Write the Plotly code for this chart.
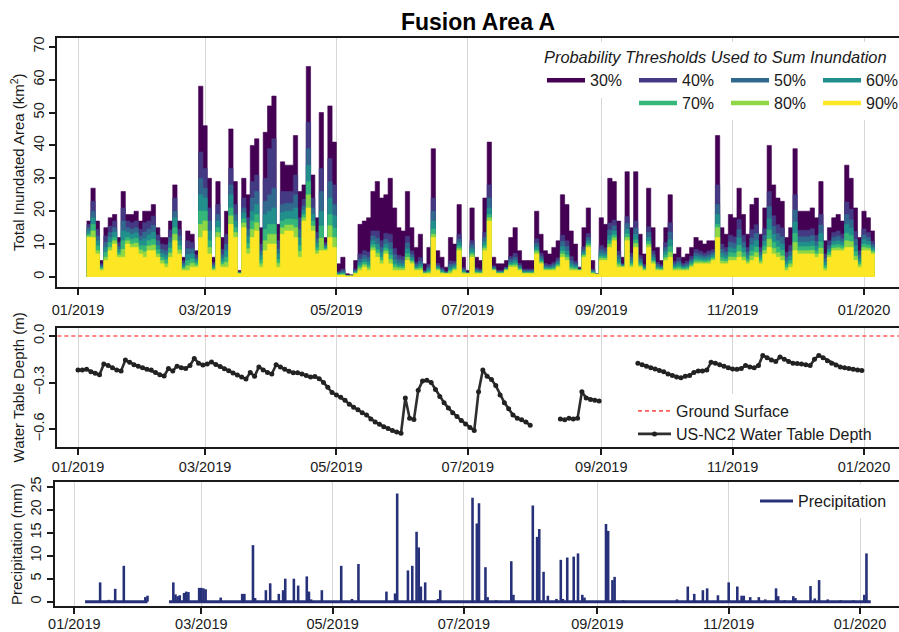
import pandas as pd
import plotly.graph_objects as go

# ------------------------------------------------------------------ data
month_ticks = ["2019-01-01", "2019-03-01", "2019-05-01", "2019-07-01",
               "2019-09-01", "2019-11-01", "2020-01-01"]
tick_labels = ["01/2019", "03/2019", "05/2019", "07/2019", "09/2019", "11/2019", "01/2020"]

# Total inundated area (km2), 2-day steps starting 2019-01-05
inund_start = "2019-01-05"
inund_step_days = 2
threshold_names = ["30%", "40%", "50%", "60%", "70%", "80%", "90%"]
threshold_colors = ["#440154", "#443A83", "#31688E", "#21908C", "#35B779", "#8FD744", "#FDE725"]

inund_30 = [17, 27, 17, 5, 15, 18, 19, 12, 26, 19,
            19, 20, 17, 20, 20, 22, 15, 12, 12, 17,
            28, 17, 6, 14, 13, 8, 58, 46, 30, 6,
            29, 12, 20, 45, 29, 2, 30, 25, 40, 42,
            15, 44, 52, 55, 16, 35, 34, 34, 43, 26,
            28, 64, 31, 18, 50, 12, 52, 41, 4, 6,
            1, 0.7, 5, 16, 17, 18, 26, 29, 24, 25,
            30, 21, 15, 14, 26, 15, 9, 13, 4, 9,
            39, 8, 6, 3, 12, 10, 22, 6, 2, 21,
            6, 5, 24, 41, 6, 4, 4, 5, 12, 15,
            8, 5, 5, 5, 20, 13, 8, 7, 9, 11,
            25, 22, 14, 10, 3, 15, 21, 5, 1, 18,
            16, 30, 29, 17, 6, 32, 15, 32, 13, 7,
            27, 15, 9, 5, 15, 25, 7, 9, 6, 7,
            9, 12, 11, 10, 11, 11, 43, 15, 13, 19,
            18, 27, 19, 13, 22, 24, 13, 21, 40, 28,
            24, 23, 12, 15, 39, 20, 20, 20, 21, 18,
            29, 11, 15, 18, 19, 17, 34, 30, 21, 12,
            20, 18, 14]

inund_40 = [16, 23, 14.5, 4, 12.5, 15.5, 17, 10.5, 21, 17,
            16.5, 17, 14.5, 16.5, 17, 18.5, 12.8, 10, 9.8, 14.3,
            24, 14.5, 5, 11, 10.5, 6.8, 38, 33, 21, 4.4,
            22, 8.4, 13, 33, 22, 1.6, 24, 18, 29, 31,
            10, 30, 39, 42, 11, 26, 26, 26, 31, 18,
            23.6, 47, 24, 13.6, 33, 10.4, 36, 28, 1.7, 2.4,
            0.55, 0.45, 2.4, 7, 8, 7.6, 14, 14, 11, 13.3,
            13, 8.7, 6.6, 6.2, 12.4, 7.9, 4.5, 5.9, 2, 3.8,
            24, 4.1, 2.8, 1.7, 4.9, 4.8, 13, 2.8, 1.4, 11,
            2.8, 2.4, 13.6, 28, 3.4, 2, 2, 3, 6.2, 7.2,
            4.1, 2.4, 2.4, 2.4, 11.6, 7.2, 4.1, 3.8, 4.5, 5.8,
            12.7, 11, 6.2, 4.8, 2.4, 9.2, 13.2, 2.4, 0.9, 9.6,
            8.9, 16.4, 17.3, 7.9, 4, 18.4, 7.2, 17, 6.5, 3.8,
            15.3, 7.9, 4.5, 3.7, 10.5, 16.5, 4.8, 5.9, 4.2, 4.8,
            6.3, 8.4, 7.9, 7.3, 7.9, 8.3, 28, 10, 9, 12.7,
            12.2, 17.5, 12.7, 9, 14.4, 15.9, 9, 14.7, 26, 18.6,
            15.9, 14.9, 7.5, 9.6, 25, 14.2, 14.2, 14.2, 14.7, 12.6,
            19, 7, 11, 13.5, 14, 13, 22.8, 20.6, 13.8, 8,
            14.6, 13.5, 10.9]

inund_50 = [15, 20, 12.5, 3.5, 10.5, 13.5, 15, 9.3, 17, 15,
            14.5, 15, 12.5, 13.7, 14.6, 15.7, 11, 8.4, 8, 12,
            20, 12.5, 4.2, 8.6, 8.5, 5.8, 30, 27, 17, 3.7,
            19, 6.8, 10, 28, 19, 1.4, 21, 14.5, 24, 26,
            8, 23, 25, 27, 8.5, 22, 22.4, 22.4, 25, 14.4,
            21.6, 39, 21, 11.6, 26, 9.7, 29, 22, 1.4, 1.9,
            0.5, 0.4, 2, 5.5, 6.5, 6, 12.5, 11.8, 9, 11.5,
            10.5, 6.8, 5.3, 5, 10.3, 6.8, 3.8, 4.8, 1.8, 3,
            20, 3.5, 2.3, 1.5, 3.8, 4, 11.5, 2.3, 1.3, 9.8,
            2.3, 2, 12, 24, 3, 1.8, 1.8, 2.8, 5.3, 6,
            3.5, 2, 2, 2, 10.3, 6.3, 3.5, 3.3, 3.8, 5,
            10.8, 9.3, 5, 4, 2.3, 8.3, 12, 2, 0.9, 8.3,
            7.8, 14.3, 15.5, 6.5, 3.8, 16.3, 6, 14.8, 5.5, 3.3,
            13.5, 6.8, 3.8, 3.2, 9, 13.6, 4, 4.8, 3.6, 4,
            5.4, 7.2, 6.8, 6.4, 6.8, 7.4, 22, 8.4, 7.6, 10.6,
            10.2, 14.4, 10.6, 7.6, 11.8, 13.2, 7.6, 12.6, 21.4, 15.4,
            13.2, 12.2, 6, 7.8, 20.4, 12.2, 12.2, 12.2, 12.6, 10.8,
            15.8, 5.6, 9.6, 12, 12.4, 11.6, 19, 17.4, 11.4, 6.6,
            12.8, 12, 9.8]

inund_60 = [14, 18, 11, 3, 9, 12, 13.6, 8.4, 14, 13.6,
            13, 13.4, 11, 11.6, 12.8, 13.6, 9.6, 7.2, 6.6, 10.4,
            18, 11, 3.6, 6.8, 7, 5, 25, 24, 14, 3.2,
            17, 5.7, 8, 25, 17, 1.3, 19.5, 12.4, 20, 22,
            6.6, 19, 20, 21, 7, 19.6, 20, 20, 21, 12,
            20.3, 34, 19, 10.3, 20, 9.2, 24, 18.6, 1.1, 1.4,
            0.4, 0.37, 1.7, 4.4, 5.4, 4.7, 11, 10, 7.4, 10,
            8.4, 5.2, 4.2, 4, 8.6, 5.9, 3.2, 3.9, 1.5, 2.4,
            17, 3, 1.9, 1.3, 2.9, 3.4, 10.4, 1.9, 1.2, 8.6,
            1.9, 1.7, 10.7, 21, 2.7, 1.5, 1.5, 2.5, 4.5, 5,
            3, 1.7, 1.7, 1.7, 9.2, 5.5, 3, 2.9, 3.2, 4.4,
            9.2, 7.9, 4, 3.4, 2.2, 7.5, 11, 1.7, 0.85, 7.2,
            6.9, 12.6, 14, 5.4, 3.5, 14.6, 5, 12.9, 4.7, 2.9,
            12, 5.9, 3.2, 2.8, 7.8, 11.3, 3.4, 4, 3.1, 3.4,
            4.7, 6.2, 6, 5.7, 6, 6.7, 19, 7.1, 6.5, 8.9,
            8.6, 11.9, 8.9, 6.5, 9.8, 11, 6.5, 10.9, 17.7, 12.9,
            11, 10, 4.8, 6.4, 16.7, 10.6, 10.6, 10.6, 10.9, 9.4,
            13.2, 4.5, 8.5, 10.8, 11, 10.5, 16, 14.9, 9.5, 5.5,
            11.4, 10.8, 9]

inund_70 = [13, 16, 9.5, 2.8, 7.5, 10.5, 12, 7.5, 11, 12,
            11.5, 11.8, 9.5, 9.5, 11, 11.5, 8.3, 6, 5.3, 8.8,
            15, 9.5, 3, 5, 5.5, 4.3, 20, 20, 11, 2.7,
            15, 4.6, 6, 21, 15, 1.2, 17.7, 10.2, 17, 19,
            5.2, 14.5, 16, 16, 5.3, 17, 17.6, 17.6, 17.5, 9.6,
            19, 29, 17, 9, 15.5, 8.7, 19, 14.8, 0.9, 1,
            0.35, 0.34, 1.4, 3.4, 4.4, 3.6, 9.8, 8.3, 6, 8.8,
            6.6, 3.9, 3.3, 3.2, 7.1, 5.1, 2.7, 3.1, 1.3, 1.8,
            14.5, 2.6, 1.5, 1.2, 2.1, 2.8, 9.4, 1.5, 1.1, 7.5,
            1.5, 1.4, 9.6, 19, 2.4, 1.3, 1.3, 2.3, 3.9, 4.2,
            2.6, 1.4, 1.4, 1.4, 8.3, 4.9, 2.6, 2.5, 2.7, 3.8,
            7.9, 6.7, 3.2, 2.8, 2.1, 6.9, 10.2, 1.4, 0.85, 6.3,
            6.1, 11.1, 12.8, 4.4, 3.3, 13.1, 4.2, 11.3, 4, 2.5,
            10.8, 5.1, 2.7, 2.5, 6.7, 9.2, 2.9, 3.2, 2.7, 2.9,
            4, 5.4, 5.2, 5, 5.2, 6, 16, 5.9, 5.5, 7.4,
            7.2, 9.6, 7.4, 5.5, 7.9, 9.1, 5.5, 9.4, 14.3, 10.6,
            9.1, 8.1, 3.7, 5, 13.3, 9.2, 9.2, 9.2, 9.4, 8,
            10.7, 3.5, 7.5, 9.7, 9.9, 9.5, 13.3, 12.6, 7.7, 4.5,
            10, 9.7, 8.2]

inund_80 = [12.5, 14, 8, 2.4, 6, 9, 11, 6.7, 8.4, 11,
            10, 10.3, 8.2, 7.7, 9.4, 9.7, 7, 5, 4, 7.3,
            13, 8.2, 2.5, 3.4, 4.2, 3.6, 16, 17, 9, 2.4,
            13.5, 3.8, 4.5, 18.6, 13.5, 1.1, 16.4, 8.6, 14.5, 16.5,
            4, 11, 13, 13, 4.2, 15, 15.8, 15.8, 15, 7.8,
            18, 25, 15.5, 8, 11.8, 8.4, 15.6, 12, 0.7, 0.8,
            0.3, 0.32, 1.2, 2.7, 3.7, 2.8, 8.9, 7.2, 5, 7.9,
            5.3, 3, 2.7, 2.6, 6, 4.6, 2.4, 2.6, 1.2, 1.4,
            13, 2.3, 1.3, 1.1, 1.6, 2.4, 8.7, 1.3, 1.05, 6.8,
            1.3, 1.2, 8.8, 18, 2.2, 1.2, 1.2, 2.2, 3.5, 3.6,
            2.3, 1.2, 1.2, 1.2, 7.7, 4.5, 2.3, 2.3, 2.4, 3.4,
            7, 5.9, 2.6, 2.4, 2.05, 6.5, 9.6, 1.2, 0.8, 5.7,
            5.6, 10, 11.9, 3.7, 3.2, 12, 3.6, 10.2, 3.5, 2.3,
            9.9, 4.6, 2.4, 2.2, 5.8, 7.5, 2.4, 2.6, 2.3, 2.4,
            3.5, 4.6, 4.6, 4.5, 4.6, 5.5, 15, 4.9, 4.7, 6.1,
            6, 7.7, 6.1, 4.7, 6.4, 7.4, 4.7, 8.1, 11.5, 8.7,
            7.4, 6.4, 2.8, 4, 10.5, 8, 8, 8, 8.1, 7,
            8.8, 2.7, 6.7, 8.8, 8.9, 8.7, 11, 10.7, 6.3, 3.7,
            9, 8.8, 7.6]

inund_90 = [12, 12, 7, 2, 5, 8, 10, 6, 6, 10,
            9, 9, 7, 6, 8, 8, 6, 4, 3, 6,
            11, 7, 2, 2, 3, 3, 12, 14, 7, 2,
            12, 3, 3, 16, 12, 1, 15, 7, 12, 14,
            3, 8, 10, 10, 3, 13, 14, 14, 12, 6,
            17, 21, 14, 7, 8, 8, 12, 9, 0.5, 0.5,
            0.3, 0.3, 1, 2, 3, 2, 8, 6, 4, 7,
            4, 2, 2, 2, 5, 4, 2, 2, 1, 1,
            12, 2, 1, 1, 1, 2, 8, 1, 1, 6,
            1, 1, 8, 17, 2, 1, 1, 2, 3, 3,
            2, 1, 1, 1, 7, 4, 2, 2, 2, 3,
            6, 5, 2, 2, 2, 6, 9, 1, 0.8, 5,
            5, 9, 11, 3, 3, 11, 3, 9, 3, 2,
            9, 4, 2, 2, 5, 6, 2, 2, 2, 2,
            3, 4, 4, 4, 4, 5, 12, 4, 4, 5,
            5, 6, 5, 4, 5, 6, 4, 7, 9, 7,
            6, 5, 2, 3, 8, 7, 7, 7, 7, 6,
            7, 2, 6, 8, 8, 8, 9, 9, 5, 3,
            8, 8, 7]

# Water table depth (m) at US-NC2, 2-day steps from 2019-01-01 (None = no record)
wt_start = "2019-01-01"
wt_step_days = 2
water_table = [-0.22, -0.22, -0.215, -0.23, -0.24, -0.25, -0.18, -0.19, -0.205, -0.22,
               -0.225, -0.155, -0.17, -0.185, -0.195, -0.205, -0.215, -0.22, -0.235, -0.25,
               -0.258, -0.21, -0.225, -0.195, -0.205, -0.21, -0.19, -0.145, -0.175, -0.187,
               -0.18, -0.168, -0.184, -0.197, -0.211, -0.224, -0.238, -0.251, -0.265, -0.278,
               -0.235, -0.26, -0.2, -0.22, -0.235, -0.245, -0.185, -0.2, -0.215, -0.228,
               -0.237, -0.237, -0.245, -0.255, -0.265, -0.262, -0.275, -0.3, -0.33, -0.365,
               -0.38, -0.395, -0.415, -0.44, -0.46, -0.475, -0.495, -0.51, -0.535, -0.555,
               -0.57, -0.585, -0.597, -0.61, -0.62, -0.628, -0.40, -0.53, -0.538, -0.35,
               -0.29, -0.285, -0.30, -0.345, -0.39, -0.43, -0.465, -0.495, -0.52, -0.545,
               -0.567, -0.59, -0.61, -0.36, -0.22, -0.26, -0.28, -0.32, -0.38, -0.43,
               -0.47, -0.51, -0.53, -0.54, -0.555, -0.575, None, None, None, None,
               None, None, -0.535, -0.54, -0.53, -0.535, -0.53, -0.36, -0.40, -0.41,
               -0.415, -0.42, None, None, None, None, None, None, None, None,
               -0.176, -0.185, -0.195, -0.205, -0.213, -0.222, -0.23, -0.245, -0.255, -0.265,
               -0.27, -0.26, -0.255, -0.235, -0.225, -0.225, -0.22, -0.17, -0.175, -0.185,
               -0.195, -0.205, -0.213, -0.215, -0.21, -0.19, -0.2, -0.205, -0.19, -0.125,
               -0.14, -0.155, -0.165, -0.135, -0.15, -0.165, -0.175, -0.178, -0.18, -0.185,
               -0.19, -0.15, -0.125, -0.14, -0.16, -0.175, -0.187, -0.2, -0.205, -0.21,
               -0.215, -0.22, -0.222]
ground_surface_m = 0.0

# Daily precipitation (mm): day offset from 2019-01-01 and amount (non-zero days)
precip_day = [12, 16, 19, 23, 33, 34, 46, 47, 48, 49, 51, 52, 53, 58, 59, 60, 61, 68,
              78, 79, 83, 84, 89, 91, 95, 97, 98, 102, 104, 108, 109, 110, 115, 124,
              129, 132, 145, 149, 150, 155, 157, 159, 160, 161, 163, 169, 170,
              185, 187, 188, 191, 192, 196, 203, 204, 213, 215, 216, 218, 220, 224,
              226, 227, 229, 232, 234, 236, 237, 247, 248, 250, 251, 255, 280, 285,
              288, 292, 294, 299, 304, 308, 310, 311, 314, 318, 321, 326, 327, 330,
              334, 335, 342, 344, 346, 350, 356, 362, 367, 368]
precip_mm = [4.2, 0.4, 2.8, 7.8, 1.0, 1.3, 4.2, 1.6, 1.2, 1.4, 1.9, 2.2, 2.1, 3.0, 3.0, 2.9, 2.7, 0.9,
             1.7, 1.7, 12.3, 0.8, 2.5, 4.0, 1.7, 2.5, 5.0, 5.0, 3.5, 5.5, 2.2, 0.5, 2.5, 7.8,
             0.6, 8.2, 2.2, 1.8, 23.5, 6.8, 7.8, 15.2, 11.8, 3.3, 4.2, 0.6, 2.5,
             22.6, 17.0, 21.4, 7.5, 1.0, 0.3, 8.8, 1.5, 20.9, 14.1, 15.8, 6.5, 1.3, 0.6,
             9.1, 0.6, 9.6, 9.8, 10.5, 1.5, 0.9, 16.9, 15.4, 4.7, 5.4, 0.3, 0.5, 3.3,
             1.7, 2.5, 2.9, 1.4, 4.2, 3.3, 1.3, 1.3, 1.0, 1.0, 0.5, 2.9, 1.2, 0.3,
             1.2, 0.8, 3.4, 0.7, 4.7, 0.5, 0.3, 0.2, 1.5, 10.5]
precip_periods = [("2019-01-06", "2019-02-04"), ("2019-02-14", "2020-01-06")]

# ------------------------------------------------------------------ layout helpers
W, H = 899, 632
FONT = "Liberation Sans, Arial, Helvetica, sans-serif"
INK = "#1a1a1a"
NAVY = "#27317A"
JAN1 = pd.Timestamp("2019-01-01")


def ydom(top_px, bottom_px):
    return [1 - bottom_px / H, 1 - top_px / H]


def xrange_px(left_px, right_px, jan1_px, px_per_day):
    a = JAN1 + pd.Timedelta(days=(left_px - jan1_px) / px_per_day)
    b = JAN1 + pd.Timedelta(days=(right_px - jan1_px) / px_per_day)
    return [a.strftime("%Y-%m-%d %H:%M:%S"), b.strftime("%Y-%m-%d %H:%M:%S")]


def yrange_px(top_px, bottom_px, v0, p0, v1, p1):
    k = (v1 - v0) / (p1 - p0)
    return [v0 + (bottom_px - p0) * k, v0 + (top_px - p0) * k]


fig = go.Figure()

# ---- top panel: overlaid step areas (30% drawn first, 90% last)
inund_series = [inund_30, inund_40, inund_50, inund_60, inund_70, inund_80, inund_90]
n = len(inund_30)
inund_dates = pd.date_range(inund_start, periods=n + 1, freq=f"{inund_step_days}D")
for name, col, vals in zip(threshold_names, threshold_colors, inund_series):
    fig.add_trace(go.Scatter(
        x=inund_dates, y=list(vals) + [vals[-1]], mode="lines", line_shape="hv",
        line=dict(color=col, width=0.6), fill="tozeroy", fillcolor=col,
        showlegend=False, xaxis="x", yaxis="y", hoverinfo="skip"))
# legend entries (line samples)
for k, (name, col) in enumerate(zip(threshold_names, threshold_colors)):
    fig.add_trace(go.Scatter(
        x=[None], y=[None], mode="lines", line=dict(color=col, width=4.5), name=name,
        legend="legend" if k < 4 else "legend2", xaxis="x", yaxis="y"))

# ---- middle panel: water table
wt_dates = pd.date_range(wt_start, periods=len(water_table), freq=f"{wt_step_days}D")
fig.add_trace(go.Scatter(
    x=wt_dates, y=water_table, mode="lines+markers", connectgaps=False,
    line=dict(color="#2e2e2e", width=2.6),
    marker=dict(color="#222222", size=5, line=dict(width=0)),
    name="US-NC2 Water Table Depth", legend="legend5",
    xaxis="x2", yaxis="y2"))

# ---- bottom panel: precipitation
p_dates = [JAN1 + pd.Timedelta(days=d) for d in precip_day]
fig.add_trace(go.Bar(
    x=p_dates, y=precip_mm, width=1.2 * 86400000, marker=dict(color=NAVY, line=dict(width=0)),
    showlegend=False, xaxis="x3", yaxis="y3"))
base_x, base_y = [], []
for a, b in precip_periods:
    base_x += [a, b, None]
    base_y += [0, 0, None]
fig.add_trace(go.Scatter(
    x=base_x, y=base_y, mode="lines", line=dict(color=NAVY, width=3),
    name="Precipitation", legend="legend4", xaxis="x3", yaxis="y3"))

# ------------------------------------------------------------------ axes
xcommon = dict(type="date", tickvals=month_ticks, ticktext=tick_labels,
               showline=True, linecolor=INK, linewidth=2, mirror=True,
               ticks="outside", ticklen=6, tickwidth=1.5, tickcolor=INK,
               tickfont=dict(family=FONT, size=14.5, color=INK),
               showgrid=True, gridcolor="#d6d6d6", gridwidth=1, zeroline=False)
ycommon = dict(showline=True, linecolor=INK, linewidth=2, mirror=False,
               ticks="outside", ticklen=6, tickwidth=1.5, tickcolor=INK,
               tickangle=-90, tickfont=dict(family=FONT, size=14.5, color=INK),
               showgrid=False, zeroline=False,
               title_font=dict(family=FONT, size=15, color=INK))

top_t, top_b = 37.7, 286.7
mid_t, mid_b = 327.7, 447.0
bot_t, bot_b = 482.3, 606.0

fig.update_layout(
    xaxis=dict(xcommon, domain=[57.3 / W, 1], anchor="y",
               range=xrange_px(57.3, W, 78.0, 786 / 365), ticklabelstandoff=3),
    yaxis=dict(ycommon, domain=ydom(top_t, top_b), anchor="x",
               range=yrange_px(top_t, top_b, 0, 277.0, 70, 46.7),
               tickvals=[0, 10, 20, 30, 40, 50, 60, 70],
               title=dict(text="Total Inundated Area (km<sup>2</sup>)", standoff=2)),
    xaxis2=dict(xcommon, domain=[57.3 / W, 1], anchor="y2",
                range=xrange_px(57.3, W, 78.0, 786 / 365), ticklabelstandoff=0),
    yaxis2=dict(ycommon, domain=ydom(mid_t, mid_b), anchor="x2",
                range=yrange_px(mid_t, mid_b, 0, 336.0, -0.6, 429.0),
                tickvals=[0, -0.3, -0.6], tickformat=".1f",
                title=dict(text="Water Table Depth (m)", standoff=2)),
    xaxis3=dict(xcommon, domain=[55.0 / W, 1], anchor="y3",
                range=xrange_px(55.0, W, 74.3, 785.7 / 365), ticklabelstandoff=-2),
    yaxis3=dict(ycommon, domain=ydom(bot_t, bot_b), anchor="x3",
                range=yrange_px(bot_t, bot_b, 0, 601.7, 25, 486.7),
                tickvals=[0, 5, 10, 15, 20, 25],
                title=dict(text="Precipitation (mm)", standoff=2)),
)

ground_shape = dict(type="line", xref="x2 domain", x0=0, x1=1, yref="y2",
                    y0=ground_surface_m, y1=ground_surface_m,
                    line=dict(color="#FF5E5E", width=1.6, dash="4px,3px"),
                    layer="above", showlegend=True, name="Ground Surface",
                    legend="legend3")

leg_font = dict(family=FONT, size=16, color=INK)
fig.update_layout(
    width=W, height=H, margin=dict(l=0, r=0, t=0, b=0, autoexpand=False),
    paper_bgcolor="white", plot_bgcolor="white",
    font=dict(family=FONT, color=INK),
    shapes=[ground_shape],
    title=dict(text="<b>Fusion Area A</b>", x=478 / W, xanchor="center",
               y=1 - 22 / H, yanchor="middle",
               font=dict(family=FONT, size=23, color="black")),
    legend=dict(orientation="h", x=542 / W, xanchor="left", y=1 - 42 / H, yanchor="top",
                bgcolor="white", borderwidth=0, font=leg_font, entrywidth=39,
                itemwidth=38, traceorder="normal",
                title=dict(text="Probability Thresholds Used to Sum Inundation",
                           side="top",
                           font=dict(family=FONT, size=16.4, color=INK, style="italic"))),
    legend2=dict(orientation="h", x=634 / W, xanchor="left", y=1 - 86 / H, yanchor="top",
                 bgcolor="white", borderwidth=0, font=leg_font, entrywidth=39,
                 itemwidth=38, traceorder="normal"),
    legend3=dict(orientation="v", x=633 / W, xanchor="left", y=1 - 394 / H, yanchor="top",
                 bgcolor="white", borderwidth=0, font=leg_font, itemwidth=33),
    legend5=dict(orientation="v", x=633 / W, xanchor="left", y=1 - 417 / H, yanchor="top",
                 bgcolor="rgba(255,255,255,0)", borderwidth=0, font=leg_font, itemwidth=33),
    legend4=dict(orientation="v", x=755 / W, xanchor="left", y=1 - 484 / H, yanchor="top",
                 bgcolor="white", borderwidth=0, font=leg_font, itemwidth=33),
    showlegend=True,
)

fig.write_html("out.html")
